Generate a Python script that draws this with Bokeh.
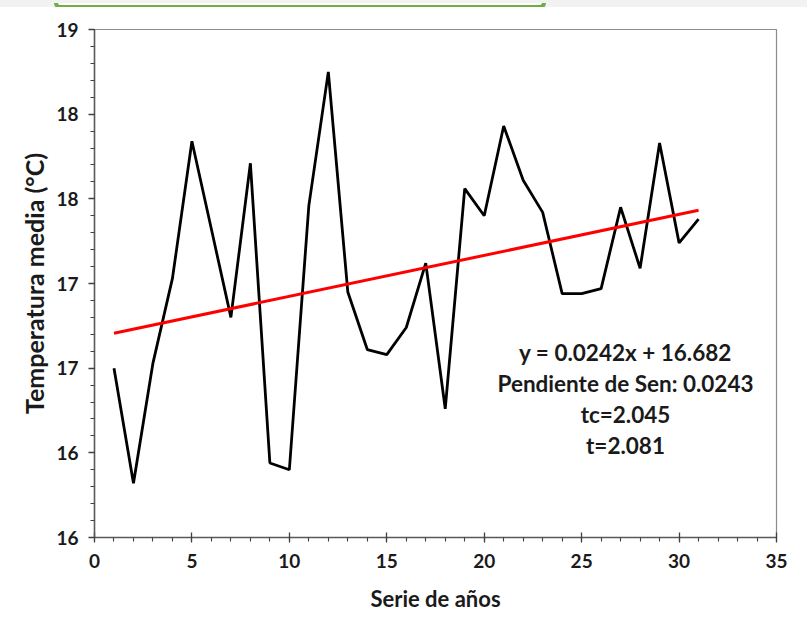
from bokeh.plotting import figure
from bokeh.models import FixedTicker, Label, Div
from bokeh.layouts import column
from bokeh.embed import file_html
from bokeh.resources import INLINE

# Annual mean temperature series (year index 1..31)
years = list(range(1, 32))
temp_media = [16.50, 15.82, 16.53, 17.03, 17.84, 17.32, 16.80, 17.71, 15.94, 15.90,
              17.46, 18.25, 16.95, 16.61, 16.58, 16.74, 17.12, 16.26, 17.56, 17.40,
              17.93, 17.61, 17.42, 16.94, 16.94, 16.97, 17.45, 17.09, 17.83, 17.24,
              17.38]

# Linear trend and test statistics
slope = 0.0242
intercept = 16.682
sen_slope = 0.0243
tc = 2.045
t_stat = 2.081

# Y ticks every 0.5, labelled with whole numbers (rounded)
y_ticks = [15.5, 16.0, 16.5, 17.0, 17.5, 18.0, 18.5]
y_tick_labels = ["16", "16", "17", "17", "18", "18", "19"]
x_ticks = [0, 5, 10, 15, 20, 25, 30, 35]

annotation_lines = [
    f"y = {slope}x + {intercept}",
    f"Pendiente de Sen: {sen_slope}",
    f"tc={tc}",
    f"t={t_stat}",
]

FONT = "Lato"

# thin page strip with the lower edge of a rounded green panel
strip = Div(
    text=('<div style="display:block;position:relative;top:-3px;margin:0 0 0 54px;padding:0;'
          'width:492px;height:6px;box-sizing:border-box;border:4px solid #70ad47;border-top:0;'
          'border-radius:0 0 10px 10px;background-color:#ffffff"></div>'),
    width=807, height=7, margin=(0, 0, 0, 0),
    styles={"background-color": "#f2f2f2", "overflow": "hidden"},
)

p = figure(width=807, height=636, output_backend="svg", toolbar_location=None,
           x_range=(0, 35), y_range=(15.5, 18.5),
           min_border_left=94, min_border_right=31, min_border_top=22, min_border_bottom=106)

p.background_fill_color = "white"
p.border_fill_color = "white"
p.outline_line_color = "#8c8c8c"
p.outline_line_width = 1.2
p.xgrid.visible = False
p.ygrid.visible = False

# series and trend
p.line(years, temp_media, line_color="black", line_width=2.8)
trend_x = [years[0], years[-1]]
trend_y = [intercept + slope * x for x in trend_x]
p.line(trend_x, trend_y, line_color="#ff0000", line_width=3)

# axes
p.xaxis.ticker = FixedTicker(ticks=x_ticks, minor_ticks=list(range(0, 36)))
p.yaxis.ticker = FixedTicker(ticks=y_ticks,
                             minor_ticks=[round(15.5 + 0.1 * i, 1) for i in range(31)])
p.yaxis.major_label_overrides = {v: s for v, s in zip(y_ticks, y_tick_labels)}

for ax in (p.xaxis[0], p.yaxis[0]):
    ax.axis_line_color = "#595959"
    ax.axis_line_width = 1.5
    ax.major_tick_line_color = "#404040"
    ax.minor_tick_line_color = "#404040"
    ax.major_tick_line_width = 1.3
    ax.minor_tick_line_width = 1.1
    ax.major_label_text_font = FONT
    ax.major_label_text_font_style = "bold"
    ax.major_label_text_font_size = "19px"
    ax.major_label_text_color = "#1a1a1a"
    ax.axis_label_text_font = FONT
    ax.axis_label_text_font_style = "bold"
    ax.axis_label_text_color = "#1a1a1a"

p.xaxis.major_tick_in = 5
p.xaxis.major_tick_out = 5
p.xaxis.minor_tick_in = 0
p.xaxis.minor_tick_out = 4
p.xaxis.major_label_standoff = 11
p.xaxis.axis_label = "Serie de años"
p.xaxis.axis_label_text_font_size = "22px"
p.xaxis.axis_label_standoff = 14

p.yaxis.major_tick_in = 0
p.yaxis.major_tick_out = 6
p.yaxis.minor_tick_in = 0
p.yaxis.minor_tick_out = 4
p.yaxis.major_label_standoff = 10
p.yaxis.axis_label = "Temperatura media (°C)"
p.yaxis.axis_label_text_font_size = "25px"
p.yaxis.axis_label_standoff = 4

# statistics text block
text_x = 27.25
text_top = 16.593
text_step = 0.183
for i, line in enumerate(annotation_lines):
    p.add_layout(Label(x=text_x, y=text_top - i * text_step, text=line,
                       text_align="center", text_baseline="middle",
                       text_font=FONT, text_font_style="bold",
                       text_font_size="22.5px", text_color="#1a1a1a"))

layout = column(strip, p, spacing=0)
open("out.html", "w").write(file_html(layout, INLINE))
